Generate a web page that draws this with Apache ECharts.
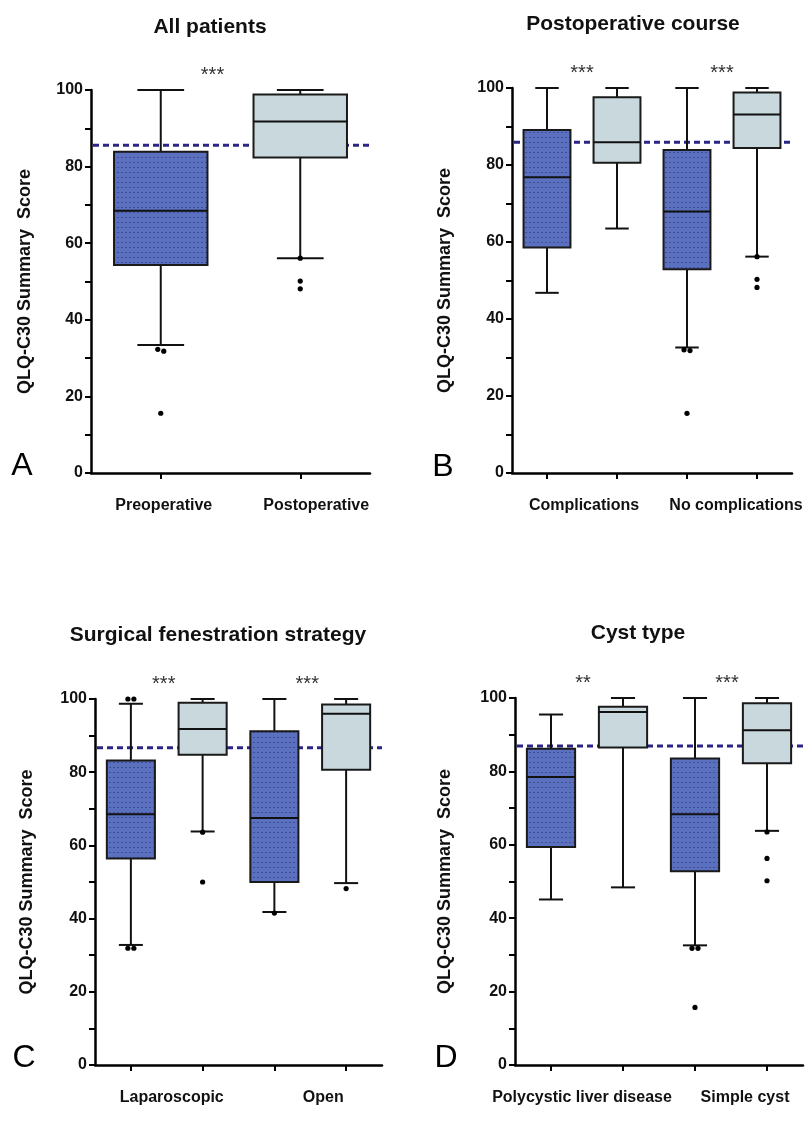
<!DOCTYPE html>
<html>
<head>
<meta charset="utf-8">
<script src="https://cdn.jsdelivr.net/npm/echarts@6/dist/echarts.min.js"></script>
<style>
html,body{margin:0;padding:0;background:#fff;}
#chart{width:807px;height:1139px;}
</style>
</head>
<body>
<div id="chart"></div>
<script>
// ---------------- DATA ----------------
const titles = ['All patients', 'Postoperative course', 'Surgical fenestration strategy', 'Cyst type'];
const letters = ['A', 'B', 'C', 'D'];
const yAxisName = 'QLQ-C30 Summary  Score';
const yTickValues = [0, 20, 40, 60, 80, 100];

// Panel A
const groupLabelsA = ['Preoperative', 'Postoperative'];
const boxKeysA = ['Preoperative', 'Postoperative'];
// [lower whisker, Q1, median, Q3, upper whisker]
const boxesA = [[33.4, 54.3, 68.5, 83.9, 100], [56.1, 82.4, 91.8, 98.8, 100]];
const outliersA = [[32.3, 31.8, 15.6], [56.1, 50.1, 48.1]];
const refA = 85.6;
const sigA = ['***'];

// Panel B
const groupLabelsB = ['Complications', 'No complications'];
const boxKeysB = ['Complications pre', 'Complications post', 'No complications pre', 'No complications post'];
const boxesB = [[46.8, 58.6, 76.8, 89.1, 100], [63.5, 80.6, 85.9, 97.6, 100], [32.6, 52.9, 67.9, 83.9, 100], [56.2, 84.4, 93.1, 98.8, 100]];
const outliersB = [[], [], [32.0, 31.8, 15.5], [56.2, 50.3, 48.2]];
const refB = 85.9;
const sigB = ['***', '***'];

// Panel C
const groupLabelsC = ['Laparoscopic', 'Open'];
const boxKeysC = ['Laparoscopic pre', 'Laparoscopic post', 'Open pre', 'Open post'];
const boxesC = [[32.8, 56.4, 68.5, 83.2, 98.7], [63.8, 84.8, 91.8, 99.0, 100], [41.8, 50.0, 67.5, 91.2, 100], [49.7, 80.7, 96.0, 98.5, 100]];
const outliersC = [[100, 100, 31.9, 31.9], [63.6, 50.0], [41.5], [48.2]];
const refC = 86.7;
const sigC = ['***', '***'];

// Panel D
const groupLabelsD = ['Polycystic liver disease', 'Simple cyst'];
const boxKeysD = ['Polycystic liver disease pre', 'Polycystic liver disease post', 'Simple cyst pre', 'Simple cyst post'];
const boxesD = [[45.1, 59.4, 78.5, 86.2, 95.5], [48.4, 86.5, 96.2, 97.6, 100], [32.6, 52.8, 68.3, 83.5, 100], [63.8, 82.2, 91.2, 98.6, 100]];
const outliersD = [[], [], [31.8, 31.8, 15.7], [63.5, 56.3, 50.2]];
const refD = 86.9;
const sigD = ['**', '***'];

// ---------------- LAYOUT / STYLE ----------------
const FONT = '"Liberation Sans", Arial, sans-serif';
const grids = [
  {left: 91, top: 90, width: 279, height: 383},
  {left: 512, top: 88, width: 280, height: 385},
  {left: 95, top: 699, width: 287, height: 366},
  {left: 515, top: 698, width: 288, height: 367}
];
const titlePos = [[210, 27], [633, 24], [218, 635], [638, 633]];
const letterPos = [[22, 466], [443, 467], [24, 1058], [446, 1058]];
const labelShift = [[3, 16], [2, 14], [5, 13], [-5, 14]];
const starShift = [-18, 0, -3, -4];
const starLevel = 103.9;
const nameGaps = [57, 58, 59, 61];

const panels = [
  {labels: groupLabelsA, keys: boxKeysA, boxes: boxesA, outs: outliersA, ref: refA, sig: sigA},
  {labels: groupLabelsB, keys: boxKeysB, boxes: boxesB, outs: outliersB, ref: refB, sig: sigB},
  {labels: groupLabelsC, keys: boxKeysC, boxes: boxesC, outs: outliersC, ref: refC, sig: sigC},
  {labels: groupLabelsD, keys: boxKeysD, boxes: boxesD, outs: outliersD, ref: refD, sig: sigD}
];

function makeDotPattern() {
  const c = document.createElement('canvas');
  c.width = 4; c.height = 5;
  const g = c.getContext('2d');
  g.fillStyle = '#5b70be';
  g.fillRect(0, 0, 4, 5);
  g.fillStyle = '#3e4f98';
  g.fillRect(1, 2, 2, 1);
  return c;
}
const dotPattern = {image: makeDotPattern(), repeat: 'repeat'};
const lightFill = '#c8d8dc';

const chart = echarts.init(document.getElementById('chart'), null, {renderer: 'canvas'});

const option = {
  animation: false,
  textStyle: {fontFamily: FONT},
  grid: grids.map(g => Object.assign({containLabel: false}, g)),
  xAxis: [],
  yAxis: [],
  series: [],
  graphic: []
};

panels.forEach((p, gi) => {
  // box axis
  option.xAxis.push({
    type: 'category', gridIndex: gi, data: p.keys, boundaryGap: true, position: 'bottom',
    axisLine: {show: true, lineStyle: {color: '#000', width: 2.5}},
    axisTick: {show: true, alignWithLabel: true, interval: 0, length: 6, lineStyle: {color: '#000', width: 2}},
    axisLabel: {show: false}, splitLine: {show: false}
  });
  // group label axis
  const pads = labelShift[gi];
  const rich = {};
  pads.forEach((s, k) => {
    rich['l' + k] = {
      fontSize: 16, fontWeight: 'bold', color: '#111', fontFamily: FONT,
      padding: s >= 0 ? [0, 0, 0, 2 * s] : [0, -2 * s, 0, 0]
    };
  });
  option.xAxis.push({
    type: 'category', gridIndex: gi, data: p.labels, boundaryGap: true, position: 'bottom',
    axisLine: {show: false}, axisTick: {show: false}, splitLine: {show: false},
    axisLabel: {
      show: true, interval: 0, margin: 25, fontSize: 16, fontWeight: 'bold', color: '#111',
      formatter: (v, idx) => '{l' + idx + '|' + v + '}', rich: rich
    }
  });
  option.yAxis.push({
    type: 'value', gridIndex: gi, min: yTickValues[0], max: yTickValues[yTickValues.length - 1],
    interval: yTickValues[1] - yTickValues[0],
    name: yAxisName, nameLocation: 'middle', nameGap: nameGaps[gi],
    nameTextStyle: {fontSize: 18, fontWeight: 'bold', color: '#111', fontFamily: FONT},
    axisLine: {show: true, lineStyle: {color: '#000', width: 2.5}},
    axisTick: {show: true, length: 6, lineStyle: {color: '#000', width: 2}},
    minorTick: {show: true, splitNumber: 2, length: 6, lineStyle: {color: '#000', width: 2}},
    splitLine: {show: false}, minorSplitLine: {show: false},
    axisLabel: {fontSize: 16, fontWeight: 'bold', color: '#111', margin: 8}
  });

  const xi = gi * 2, yi = gi;

  // reference dashed line
  option.series.push({
    type: 'custom', xAxisIndex: xi, yAxisIndex: yi, z: 1, clip: false,
    data: [[0, p.ref]],
    renderItem: (params, api) => {
      const y = api.coord([0, api.value(1)])[1];
      const cs = params.coordSys;
      return {type: 'line', shape: {x1: cs.x + 2, y1: y, x2: cs.x + cs.width, y2: y},
        style: {stroke: '#2b2586', lineWidth: 3, lineDash: [6, 4]}};
    }
  });

  // boxes
  option.series.push({
    type: 'custom', xAxisIndex: xi, yAxisIndex: yi, z: 3, clip: false,
    data: p.boxes.map((b, i) => [i].concat(b)),
    renderItem: (params, api) => {
      const i = api.value(0);
      const band = api.size([1, 0])[0];
      const bw = band * 0.67;
      const halfCap = bw / 4;
      const xc = api.coord([i, 0])[0];
      const yMin = api.coord([i, api.value(1)])[1];
      const yQ1 = api.coord([i, api.value(2)])[1];
      const yMed = api.coord([i, api.value(3)])[1];
      const yQ3 = api.coord([i, api.value(4)])[1];
      const yMax = api.coord([i, api.value(5)])[1];
      const isPost = i % 2 === 1;
      const line = {stroke: '#111', lineWidth: 2};
      return {type: 'group', children: [
        {type: 'line', shape: {x1: xc, y1: yMax, x2: xc, y2: yQ3}, style: line},
        {type: 'line', shape: {x1: xc, y1: yQ1, x2: xc, y2: yMin}, style: line},
        {type: 'line', shape: {x1: xc - halfCap, y1: yMax, x2: xc + halfCap, y2: yMax}, style: line},
        {type: 'line', shape: {x1: xc - halfCap, y1: yMin, x2: xc + halfCap, y2: yMin}, style: line},
        {type: 'rect', shape: {x: xc - bw / 2, y: yQ3, width: bw, height: yQ1 - yQ3},
          style: {fill: isPost ? lightFill : dotPattern, stroke: '#1a1a1a', lineWidth: 2}},
        {type: 'line', shape: {x1: xc - bw / 2, y1: yMed, x2: xc + bw / 2, y2: yMed}, style: line}
      ]};
    }
  });

  // outliers (side-by-side spread for near-identical values)
  const outData = [];
  p.outs.forEach((vals, i) => {
    const sorted = vals.slice().sort((a, b) => b - a);
    let k = 0;
    while (k < sorted.length) {
      let j = k;
      while (j + 1 < sorted.length && Math.abs(sorted[j + 1] - sorted[k]) < 1) j++;
      const n = j - k + 1;
      for (let m = k; m <= j; m++) outData.push([i, sorted[m], (m - k - (n - 1) / 2) * 6]);
      k = j + 1;
    }
  });
  option.series.push({
    type: 'custom', xAxisIndex: xi, yAxisIndex: yi, z: 4, clip: false,
    data: outData,
    renderItem: (params, api) => {
      const pt = api.coord([api.value(0), api.value(1)]);
      return {type: 'circle', shape: {cx: pt[0] + api.value(2), cy: pt[1], r: 2.6}, style: {fill: '#000'}};
    }
  });

  // significance stars
  const nCat = p.keys.length;
  option.series.push({
    type: 'custom', xAxisIndex: xi, yAxisIndex: yi, z: 4, clip: false,
    data: p.sig.map((s, k) => [k, starLevel]),
    renderItem: (params, api) => {
      const k = api.value(0);
      const a = api.coord([2 * k, api.value(1)]);
      const b = api.coord([Math.min(2 * k + 1, nCat - 1), api.value(1)]);
      return {type: 'text', style: {
        text: p.sig[params.dataIndex], x: (a[0] + b[0]) / 2 + starShift[gi], y: a[1],
        align: 'center', verticalAlign: 'middle', fill: '#333',
        font: 'normal 20px ' + FONT
      }};
    }
  });

  option.graphic.push({
    type: 'text', style: {text: titles[gi], x: titlePos[gi][0], y: titlePos[gi][1],
      align: 'center', verticalAlign: 'middle', fill: '#111', font: 'bold 21px ' + FONT}
  });
  option.graphic.push({
    type: 'text', style: {text: letters[gi], x: letterPos[gi][0], y: letterPos[gi][1],
      align: 'center', verticalAlign: 'middle', fill: '#000', font: 'normal 32px ' + FONT}
  });
});

chart.setOption(option);
</script>
</body>
</html>
